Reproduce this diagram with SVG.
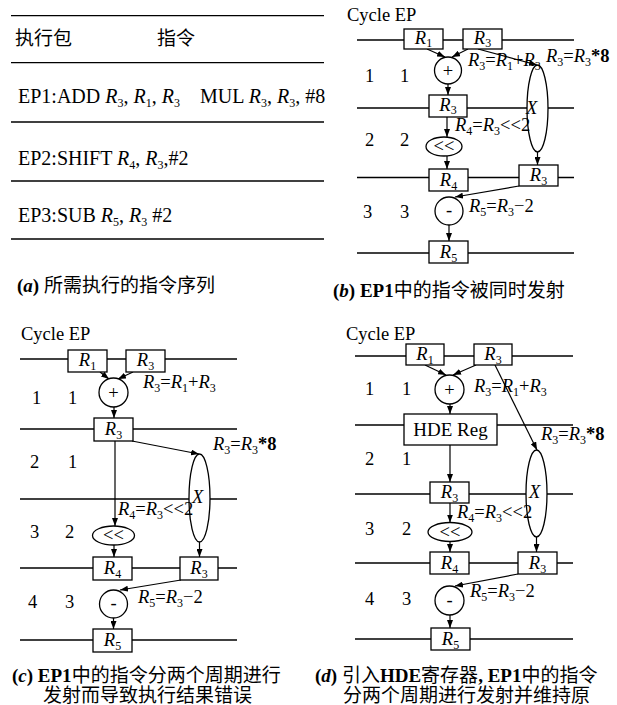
<svg xmlns="http://www.w3.org/2000/svg" width="617" height="705" viewBox="0 0 617 705">
<defs>
<marker id="ah" markerWidth="8" markerHeight="6" refX="8" refY="3" orient="auto" markerUnits="userSpaceOnUse"><path d="M0,0 L8,3 L0,6 z" fill="#000"/></marker>
<style>
text{font-family:"Liberation Serif","Noto Sans CJK SC",serif;fill:#000;}
.t{font-size:19px;}
.ta{font-size:20px;}
.lb{font-size:18.5px;}
.i{font-style:italic;}
.sb{font-size:12px;font-style:normal;}
.cap{font-size:19px;}
.b{font-weight:bold;}
.hl{stroke:#000;stroke-width:1.3;fill:none;}
.bx{fill:#fff;stroke:#000;stroke-width:1.3;}
.cn line,.cn path{stroke:#000;stroke-width:1.2;fill:none;}
.ar{marker-end:url(#ah);}
</style>
</defs>
<rect width="617" height="705" fill="#fff"/>

<!-- Panel a -->
<g id="panel-a">
<g class="hl"><line x1="11" y1="15.7" x2="324" y2="15.7"/><line x1="11" y1="62.7" x2="324" y2="62.7"/><line x1="11" y1="122" x2="324" y2="122"/><line x1="11" y1="181" x2="324" y2="181"/><line x1="11" y1="239" x2="324" y2="239"/></g>
<text class="t" x="15" y="45">执行包</text>
<text class="t" x="157" y="45">指令</text>
<text class="ta" x="18" y="103">EP1:ADD <tspan class="i">R</tspan><tspan class="sb" dy="4">3</tspan><tspan dy="-4">, </tspan><tspan class="i">R</tspan><tspan class="sb" dy="4">1</tspan><tspan dy="-4">, </tspan><tspan class="i">R</tspan><tspan class="sb" dy="4">3</tspan></text>
<text class="ta" x="200" y="103">MUL <tspan class="i">R</tspan><tspan class="sb" dy="4">3</tspan><tspan dy="-4">, </tspan><tspan class="i">R</tspan><tspan class="sb" dy="4">3</tspan><tspan dy="-4">, #8</tspan></text>
<text class="ta" x="18" y="165">EP2:SHIFT <tspan class="i">R</tspan><tspan class="sb" dy="4">4</tspan><tspan dy="-4">, </tspan><tspan class="i">R</tspan><tspan class="sb" dy="4">3</tspan><tspan dy="-4">,#2</tspan></text>
<text class="ta" x="18" y="222">EP3:SUB <tspan class="i">R</tspan><tspan class="sb" dy="4">5</tspan><tspan dy="-4">, </tspan><tspan class="i">R</tspan><tspan class="sb" dy="4">3</tspan><tspan dy="-4"> #2</tspan></text>
<text class="cap" x="17" y="292"><tspan class="b">(</tspan><tspan class="b i">a</tspan><tspan class="b">)</tspan> 所需执行的指令序列</text>
</g>

<!-- Panel b -->
<g id="panel-b-lines" class="hl">
<line x1="357" y1="40" x2="574" y2="40"/><line x1="357" y1="108" x2="574" y2="108"/><line x1="357" y1="177.5" x2="574" y2="177.5"/><line x1="357" y1="253" x2="574" y2="253"/>
</g>
<g id="b-connectors" class="cn">
<line class="ar" x1="427" y1="49" x2="445" y2="57"/>
<line class="ar" x1="468" y1="49" x2="452" y2="57"/>
<line class="ar" x1="478" y1="49" x2="537" y2="65"/>
<line class="ar" x1="448" y1="84" x2="448" y2="95"/>
<line class="ar" x1="447" y1="117" x2="447" y2="137"/>
<line class="ar" x1="447" y1="156" x2="447" y2="169"/>
<line class="ar" x1="537.5" y1="152" x2="537.5" y2="165"/>
<line class="ar" x1="519" y1="186" x2="455" y2="197"/>
<line class="ar" x1="449" y1="225" x2="449" y2="241"/>
</g>
<g id="b-R1"><rect class="bx" x="404" y="29" width="39" height="20"/><text class="lb" x="423.5" y="44" text-anchor="middle"><tspan class="i">R</tspan><tspan class="sb" dy="3">1</tspan></text></g>
<g id="b-R3a"><rect class="bx" x="463" y="29" width="39" height="20"/><text class="lb" x="482.5" y="44" text-anchor="middle"><tspan class="i">R</tspan><tspan class="sb" dy="3">3</tspan></text></g>
<g id="b-add"><circle class="bx" cx="448" cy="70.5" r="13.5"/><text class="lb" x="448" y="76.5" text-anchor="middle">+</text></g>
<g id="b-mul"><ellipse class="bx" cx="537.5" cy="108.5" rx="10.5" ry="43.5"/><text class="lb i" x="526" y="114">X</text></g>
<g id="b-R3b"><rect class="bx" x="429" y="95" width="38" height="22"/><text class="lb" x="448" y="111" text-anchor="middle"><tspan class="i">R</tspan><tspan class="sb" dy="3">3</tspan></text></g>
<g id="b-shl"><ellipse class="bx" cx="444" cy="146.5" rx="18" ry="9.5"/><text class="lb" x="444" y="152" text-anchor="middle">&lt;&lt;</text></g>
<g id="b-R4"><rect class="bx" x="429" y="169" width="39" height="22"/><text class="lb" x="448.5" y="186" text-anchor="middle"><tspan class="i">R</tspan><tspan class="sb" dy="4">4</tspan></text></g>
<g id="b-R3c"><rect class="bx" x="519" y="165" width="39" height="21"/><text class="lb" x="538.5" y="181" text-anchor="middle"><tspan class="i">R</tspan><tspan class="sb" dy="4">3</tspan></text></g>
<g id="b-sub"><circle class="bx" cx="449" cy="211" r="14"/><text class="lb" x="449" y="216" text-anchor="middle">-</text></g>
<g id="b-R5"><rect class="bx" x="429" y="241" width="39" height="22"/><text class="lb" x="448.5" y="258" text-anchor="middle"><tspan class="i">R</tspan><tspan class="sb" dy="4">5</tspan></text></g>
<g id="b-labels">
<text class="lb" x="347" y="21">Cycle EP</text>
<text class="lb" x="365" y="82">1</text><text class="lb" x="400" y="82">1</text>
<text class="lb" x="365" y="146">2</text><text class="lb" x="400" y="146">2</text>
<text class="lb" x="363" y="218">3</text><text class="lb" x="400" y="218">3</text>
<text class="lb" x="468" y="66"><tspan class="i">R</tspan><tspan class="sb" dy="4">3</tspan><tspan dy="-4">=</tspan><tspan class="i">R</tspan><tspan class="sb" dy="4">1</tspan><tspan dy="-4">+</tspan><tspan class="i">R</tspan><tspan class="sb" dy="4">3</tspan></text>
<text class="lb" x="546" y="62"><tspan class="i">R</tspan><tspan class="sb" dy="4">3</tspan><tspan dy="-4">=</tspan><tspan class="i">R</tspan><tspan class="sb" dy="4">3</tspan><tspan dy="-4" class="b">*8</tspan></text>
<text class="lb" x="455" y="131"><tspan class="i">R</tspan><tspan class="sb" dy="4">4</tspan><tspan dy="-4">=</tspan><tspan class="i">R</tspan><tspan class="sb" dy="4">3</tspan><tspan dy="-4">&lt;&lt;2</tspan></text>
<text class="lb" x="469" y="212"><tspan class="i">R</tspan><tspan class="sb" dy="4">5</tspan><tspan dy="-4">=</tspan><tspan class="i">R</tspan><tspan class="sb" dy="4">3</tspan><tspan dy="-4">−2</tspan></text>
<text class="cap" x="333" y="297"><tspan class="b">(</tspan><tspan class="b i">b</tspan><tspan class="b">) EP1</tspan>中的指令被同时发射</text>
</g>

<!-- Panel c -->
<g id="panel-c-lines" class="hl">
<line x1="20" y1="359" x2="237" y2="359"/><line x1="20" y1="429" x2="237" y2="429"/><line x1="20" y1="499" x2="237" y2="499"/><line x1="20" y1="568" x2="237" y2="568"/><line x1="20" y1="640" x2="237" y2="640"/>
</g>
<g id="c-connectors" class="cn">
<line class="ar" x1="100" y1="372" x2="109" y2="379"/>
<line class="ar" x1="133" y1="372" x2="118" y2="379"/>
<line class="ar" x1="114" y1="407" x2="114" y2="418"/>
<line class="ar" x1="115" y1="441" x2="115" y2="526"/>
<line class="ar" x1="132" y1="441" x2="199" y2="454"/>
<line class="ar" x1="114" y1="545" x2="114" y2="557"/>
<line class="ar" x1="199.5" y1="542" x2="199.5" y2="557"/>
<line class="ar" x1="181" y1="580" x2="120" y2="590"/>
<line class="ar" x1="113.5" y1="618" x2="113.5" y2="629"/>
</g>
<g id="c-R1"><rect class="bx" x="68" y="350" width="39" height="22"/><text class="lb" x="87.5" y="366" text-anchor="middle"><tspan class="i">R</tspan><tspan class="sb" dy="4">1</tspan></text></g>
<g id="c-R3a"><rect class="bx" x="126" y="350" width="39" height="22"/><text class="lb" x="145.5" y="366" text-anchor="middle"><tspan class="i">R</tspan><tspan class="sb" dy="4">3</tspan></text></g>
<g id="c-add"><circle class="bx" cx="113.5" cy="392.5" r="14.5"/><text class="lb" x="113.5" y="398.5" text-anchor="middle">+</text></g>
<g id="c-R3b"><rect class="bx" x="94" y="418" width="39" height="23"/><text class="lb" x="113.5" y="435" text-anchor="middle"><tspan class="i">R</tspan><tspan class="sb" dy="4">3</tspan></text></g>
<g id="c-mul"><ellipse class="bx" cx="199.5" cy="498" rx="10.5" ry="44"/><text class="lb i" x="192" y="503">X</text></g>
<g id="c-shl"><ellipse class="bx" cx="113.5" cy="535.5" rx="21" ry="9.5"/><text class="lb" x="113.5" y="541" text-anchor="middle">&lt;&lt;</text></g>
<g id="c-R4"><rect class="bx" x="93" y="557" width="39" height="23"/><text class="lb" x="112.5" y="574" text-anchor="middle"><tspan class="i">R</tspan><tspan class="sb" dy="4">4</tspan></text></g>
<g id="c-R3c"><rect class="bx" x="180" y="557" width="38" height="23"/><text class="lb" x="199" y="574" text-anchor="middle"><tspan class="i">R</tspan><tspan class="sb" dy="4">3</tspan></text></g>
<g id="c-sub"><circle class="bx" cx="113.5" cy="604" r="14"/><text class="lb" x="113.5" y="609" text-anchor="middle">-</text></g>
<g id="c-R5"><rect class="bx" x="93" y="629" width="39" height="23"/><text class="lb" x="112.5" y="646" text-anchor="middle"><tspan class="i">R</tspan><tspan class="sb" dy="4">5</tspan></text></g>
<g id="c-labels">
<text class="lb" x="21" y="340">Cycle EP</text>
<text class="lb" x="32" y="404">1</text><text class="lb" x="68" y="404">1</text>
<text class="lb" x="30" y="468">2</text><text class="lb" x="68" y="468">1</text>
<text class="lb" x="30" y="538">3</text><text class="lb" x="65" y="538">2</text>
<text class="lb" x="28" y="608">4</text><text class="lb" x="65" y="608">3</text>
<text class="lb" x="143" y="388"><tspan class="i">R</tspan><tspan class="sb" dy="4">3</tspan><tspan dy="-4">=</tspan><tspan class="i">R</tspan><tspan class="sb" dy="4">1</tspan><tspan dy="-4">+</tspan><tspan class="i">R</tspan><tspan class="sb" dy="4">3</tspan></text>
<text class="lb" x="213" y="450"><tspan class="i">R</tspan><tspan class="sb" dy="4">3</tspan><tspan dy="-4">=</tspan><tspan class="i">R</tspan><tspan class="sb" dy="4">3</tspan><tspan dy="-4" class="b">*8</tspan></text>
<text class="lb" x="118" y="515"><tspan class="i">R</tspan><tspan class="sb" dy="4">4</tspan><tspan dy="-4">=</tspan><tspan class="i">R</tspan><tspan class="sb" dy="4">3</tspan><tspan dy="-4">&lt;&lt;2</tspan></text>
<text class="lb" x="138" y="603"><tspan class="i">R</tspan><tspan class="sb" dy="4">5</tspan><tspan dy="-4">=</tspan><tspan class="i">R</tspan><tspan class="sb" dy="4">3</tspan><tspan dy="-4">−2</tspan></text>
<text class="cap" x="12" y="682"><tspan class="b">(</tspan><tspan class="b i">c</tspan><tspan class="b">) EP1</tspan>中的指令分两个周期进行</text>
<text class="cap" x="43" y="702">发射而导致执行结果错误</text>
</g>

<!-- Panel d -->
<g id="panel-d-lines" class="hl">
<line x1="355" y1="356" x2="573" y2="356"/><line x1="355" y1="425" x2="573" y2="425"/><line x1="355" y1="494" x2="573" y2="494"/><line x1="355" y1="563" x2="573" y2="563"/><line x1="355" y1="639" x2="573" y2="639"/>
</g>
<g id="d-connectors" class="cn">
<line class="ar" x1="425" y1="365" x2="446" y2="375"/>
<line class="ar" x1="476" y1="365" x2="453" y2="375"/>
<line class="ar" x1="495" y1="365" x2="537" y2="450"/>
<line class="ar" x1="450" y1="404" x2="450" y2="414"/>
<line class="ar" x1="450" y1="445" x2="450" y2="482"/>
<line class="ar" x1="450" y1="503" x2="450" y2="522.5"/>
<line class="ar" x1="450" y1="541.5" x2="450" y2="552"/>
<line class="ar" x1="536.5" y1="537" x2="536.5" y2="552"/>
<line class="ar" x1="518" y1="574" x2="455" y2="586"/>
<line class="ar" x1="450" y1="615" x2="450" y2="628"/>
</g>
<g id="d-R1"><rect class="bx" x="406" y="344" width="38" height="21"/><text class="lb" x="425" y="360" text-anchor="middle"><tspan class="i">R</tspan><tspan class="sb" dy="4">1</tspan></text></g>
<g id="d-R3a"><rect class="bx" x="474" y="344" width="38" height="21"/><text class="lb" x="493" y="360" text-anchor="middle"><tspan class="i">R</tspan><tspan class="sb" dy="4">3</tspan></text></g>
<g id="d-add"><circle class="bx" cx="449.5" cy="389.5" r="14.5"/><text class="lb" x="449.5" y="395.5" text-anchor="middle">+</text></g>
<g id="d-hde"><rect class="bx" x="404" y="414" width="93" height="31"/><text class="t" x="450.5" y="436" text-anchor="middle">HDE Reg</text></g>
<g id="d-mul"><ellipse class="bx" cx="536.5" cy="493.5" rx="10.5" ry="43.5"/><text class="lb i" x="529" y="498">X</text></g>
<g id="d-R3b"><rect class="bx" x="430" y="482" width="39" height="21"/><text class="lb" x="449.5" y="498" text-anchor="middle"><tspan class="i">R</tspan><tspan class="sb" dy="4">3</tspan></text></g>
<g id="d-shl"><ellipse class="bx" cx="450" cy="532" rx="22" ry="9.5"/><text class="lb" x="450" y="537.5" text-anchor="middle">&lt;&lt;</text></g>
<g id="d-R4"><rect class="bx" x="430" y="552" width="39" height="22"/><text class="lb" x="449.5" y="569" text-anchor="middle"><tspan class="i">R</tspan><tspan class="sb" dy="4">4</tspan></text></g>
<g id="d-R3c"><rect class="bx" x="518" y="552" width="39" height="22"/><text class="lb" x="537.5" y="569" text-anchor="middle"><tspan class="i">R</tspan><tspan class="sb" dy="4">3</tspan></text></g>
<g id="d-sub"><circle class="bx" cx="449.5" cy="600.5" r="14.5"/><text class="lb" x="449.5" y="605.5" text-anchor="middle">-</text></g>
<g id="d-R5"><rect class="bx" x="431" y="628" width="39" height="22"/><text class="lb" x="450.5" y="645" text-anchor="middle"><tspan class="i">R</tspan><tspan class="sb" dy="4">5</tspan></text></g>
<g id="d-labels">
<text class="lb" x="346" y="340">Cycle EP</text>
<text class="lb" x="365" y="395">1</text><text class="lb" x="402" y="395">1</text>
<text class="lb" x="365" y="465">2</text><text class="lb" x="402" y="465">1</text>
<text class="lb" x="365" y="535">3</text><text class="lb" x="402" y="535">2</text>
<text class="lb" x="365" y="605">4</text><text class="lb" x="402" y="605">3</text>
<text class="lb" x="474" y="392"><tspan class="i">R</tspan><tspan class="sb" dy="4">3</tspan><tspan dy="-4">=</tspan><tspan class="i">R</tspan><tspan class="sb" dy="4">1</tspan><tspan dy="-4">+</tspan><tspan class="i">R</tspan><tspan class="sb" dy="4">3</tspan></text>
<text class="lb" x="541" y="440"><tspan class="i">R</tspan><tspan class="sb" dy="4">3</tspan><tspan dy="-4">=</tspan><tspan class="i">R</tspan><tspan class="sb" dy="4">3</tspan><tspan dy="-4" class="b">*8</tspan></text>
<text class="lb" x="457" y="518"><tspan class="i">R</tspan><tspan class="sb" dy="4">4</tspan><tspan dy="-4">=</tspan><tspan class="i">R</tspan><tspan class="sb" dy="4">3</tspan><tspan dy="-4">&lt;&lt;2</tspan></text>
<text class="lb" x="470" y="597"><tspan class="i">R</tspan><tspan class="sb" dy="4">5</tspan><tspan dy="-4">=</tspan><tspan class="i">R</tspan><tspan class="sb" dy="4">3</tspan><tspan dy="-4">−2</tspan></text>
<text class="cap" x="315" y="682"><tspan class="b">(</tspan><tspan class="b i">d</tspan><tspan class="b">)</tspan> 引入<tspan class="b">HDE</tspan>寄存器<tspan class="b">, EP1</tspan>中的指令</text>
<text class="cap" x="343" y="702">分两个周期进行发射并维持原</text>
</g>
</svg>
